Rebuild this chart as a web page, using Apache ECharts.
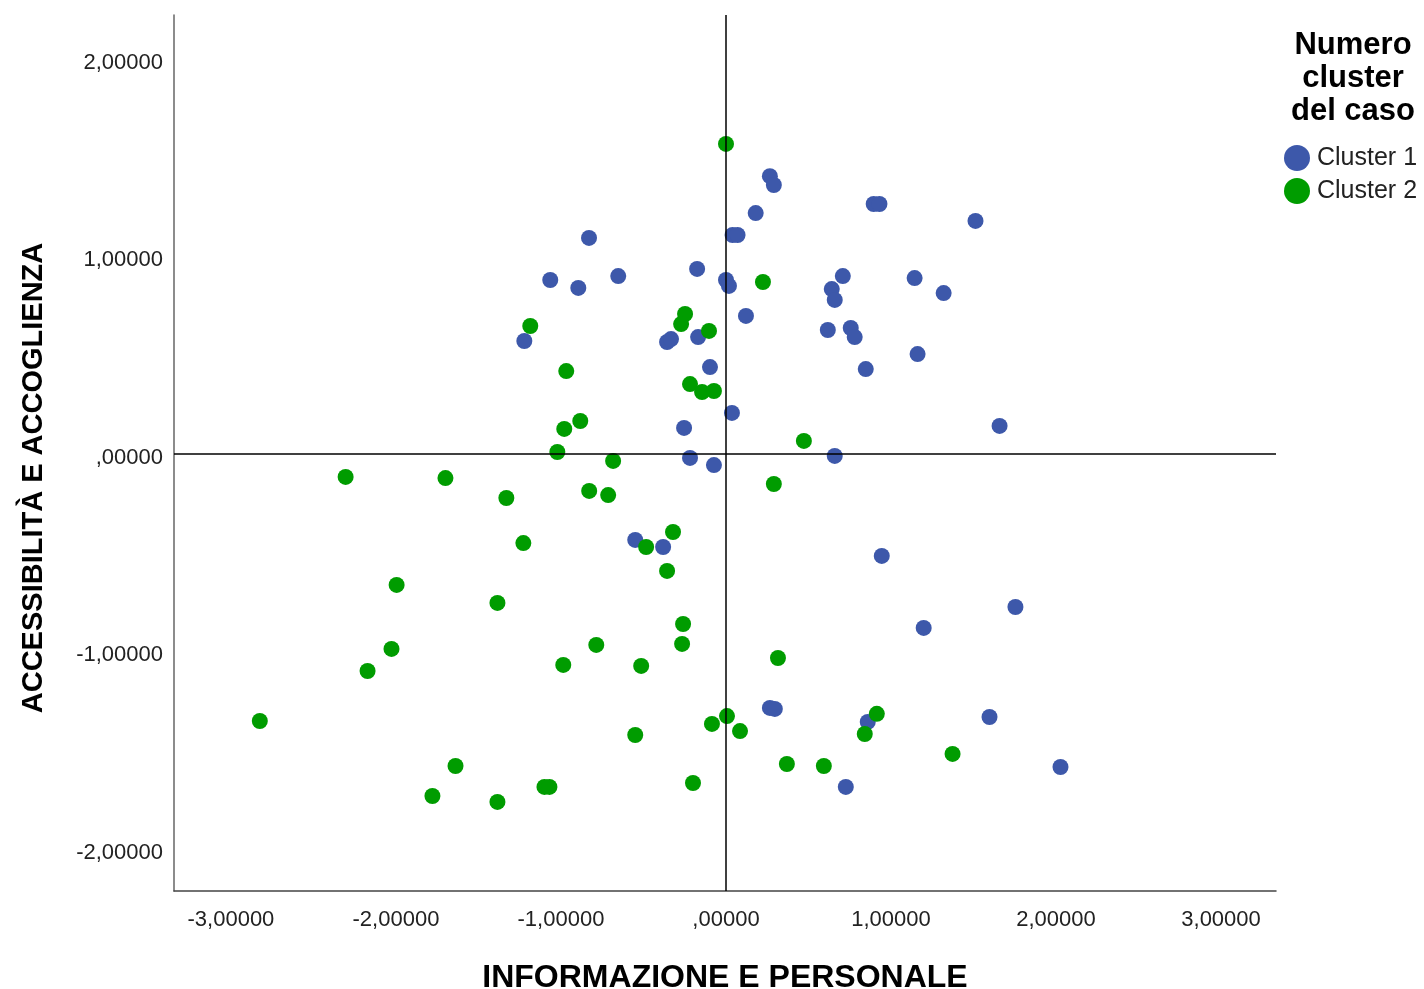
<!DOCTYPE html>
<html>
<head>
<meta charset="utf-8">
<title>Cluster</title>
<script src="https://cdn.jsdelivr.net/npm/echarts@6/dist/echarts.min.js"></script>
<style>
  html, body { margin: 0; padding: 0; background: #fff; }
  #chart { width: 1424px; height: 989px; }
</style>
</head>
<body>
<div id="chart"></div>
<script>
// Factor scores per case: [INFORMAZIONE E PERSONALE, ACCESSIBILITÀ E ACCOGLIENZA]
const cluster1 = [
  [0.266, 1.407], [0.290, 1.362], [0.895, 1.266], [0.930, 1.266], [0.180, 1.220],
  [1.512, 1.180], [0.040, 1.109], [0.070, 1.109], [-0.830, 1.094], [-0.175, 0.937],
  [-1.065, 0.881], [-0.895, 0.841], [-0.653, 0.901], [0.000, 0.881], [0.018, 0.851],
  [0.708, 0.901], [0.641, 0.835], [0.659, 0.780], [1.143, 0.891], [1.319, 0.815],
  [0.121, 0.699], [-1.222, 0.572], [-0.357, 0.567], [-0.333, 0.582], [-0.169, 0.592],
  [0.617, 0.628], [0.756, 0.638], [0.780, 0.592], [1.161, 0.506], [0.847, 0.430],
  [-0.097, 0.440], [0.036, 0.208], [-0.254, 0.132], [1.658, 0.142], [-0.218, -0.020],
  [-0.073, -0.056], [0.659, -0.010], [-0.550, -0.435], [-0.381, -0.471], [0.944, -0.516],
  [1.754, -0.775], [1.198, -0.881], [0.266, -1.286], [0.296, -1.291], [0.859, -1.357],
  [1.597, -1.332], [2.027, -1.585], [0.726, -1.686]
];

const cluster2 = [
  [0.000, 1.570], [0.224, 0.871], [-1.186, 0.648], [-0.248, 0.709], [-0.272, 0.658],
  [-0.103, 0.623], [-0.968, 0.420], [-0.218, 0.354], [-0.145, 0.314], [-0.073, 0.319],
  [-0.883, 0.167], [-0.980, 0.127], [-1.022, 0.010], [-0.684, -0.035], [0.472, 0.066],
  [-2.305, -0.116], [-1.700, -0.122], [-1.331, -0.223], [-0.829, -0.187], [-0.714, -0.208],
  [0.290, -0.152], [-1.228, -0.451], [-0.321, -0.395], [-0.484, -0.471], [-0.357, -0.592],
  [-1.996, -0.663], [-1.385, -0.754], [-0.260, -0.861], [-0.266, -0.962], [-0.786, -0.967],
  [-2.027, -0.987], [0.315, -1.033], [-0.986, -1.068], [-0.514, -1.073], [-2.172, -1.099],
  [-2.825, -1.352], [0.006, -1.327], [-0.085, -1.367], [0.085, -1.403], [0.914, -1.316],
  [0.841, -1.418], [-0.550, -1.423], [1.373, -1.519], [0.369, -1.570], [0.593, -1.580],
  [-1.639, -1.580], [-1.779, -1.732], [-1.385, -1.762], [-1.100, -1.686], [-1.070, -1.686],
  [-0.200, -1.666]
];

const seriesNames = ['Cluster 1', 'Cluster 2'];
const xTicks = [-3, -2, -1, 0, 1, 2, 3];
const yTicks = [-2, -1, 0, 1, 2];
const xTitle = 'INFORMAZIONE E PERSONALE';
const yTitle = 'ACCESSIBILITÀ E ACCOGLIENZA';
const legendTitle = 'Numero\ncluster\ndel caso';

// Decimal comma, leading zero dropped for zero: ",00000"
function fmt(v) {
  const s = Math.abs(v).toFixed(5).replace('.', ',');
  const body = Math.abs(v) < 1e-9 ? s.slice(1) : s;
  return (v < 0 ? '-' : '') + body;
}

const FONT = "'Liberation Sans', Arial, sans-serif";
const chart = echarts.init(document.getElementById('chart'), null, { renderer: 'canvas' });

chart.setOption({
  animation: false,
  backgroundColor: '#ffffff',
  color: ['#3d58aa', '#009c00'],
  grid: { left: 174, right: 148, top: 15, bottom: 98, outerBoundsMode: 'none', containLabel: false },
  xAxis: {
    type: 'value',
    min: -3.345, max: 3.333,
    name: xTitle,
    nameLocation: 'middle',
    nameGap: 71,
    nameTextStyle: { fontFamily: FONT, fontSize: 32, fontWeight: 'bold', color: '#000' },
    axisLine: { show: true, onZero: false, lineStyle: { color: '#444', width: 1.5 } },
    axisTick: { show: false },
    splitLine: { show: false },
    axisLabel: {
      customValues: xTicks,
      formatter: fmt,
      margin: 18,
      fontFamily: FONT, fontSize: 22, color: '#222'
    }
  },
  yAxis: {
    type: 'value',
    min: -2.213, max: 2.223,
    name: yTitle,
    nameLocation: 'middle',
    nameGap: 126,
    nameTextStyle: { fontFamily: FONT, fontSize: 29, fontWeight: 'bold', color: '#000', padding: [0, 50, 0, 0] },
    axisLine: { show: true, onZero: false, lineStyle: { color: '#666', width: 1.5 } },
    axisTick: { show: false },
    splitLine: { show: false },
    axisLabel: {
      customValues: yTicks,
      formatter: v => '{v|' + fmt(v) + '}',
      margin: 11,
      rich: {
        v: { fontFamily: FONT, fontSize: 22, color: '#222', padding: [7, 0, 0, 0] }
      }
    }
  },
  legend: {
    data: seriesNames,
    orient: 'vertical',
    left: 1284,
    top: 145,
    padding: 0,
    itemGap: 7,
    itemWidth: 26,
    itemHeight: 26,
    icon: 'circle',
    itemStyle: { opacity: 1 },
    textStyle: { fontFamily: FONT, fontSize: 25, color: '#222', padding: [0, 0, 0, 2] }
  },
  graphic: [{
    type: 'text',
    x: 1353,
    y: 29,
    style: {
      text: legendTitle,
      textAlign: 'center',
      textVerticalAlign: 'top',
      font: "bold 31px 'Liberation Sans', Arial, sans-serif",
      lineHeight: 33,
      fill: '#000'
    }
  }],
  series: [
    {
      name: seriesNames[0],
      type: 'scatter',
      symbolSize: 16,
      itemStyle: { opacity: 1 },
      data: cluster1,
      z: 2
    },
    {
      name: seriesNames[1],
      type: 'scatter',
      symbolSize: 16,
      itemStyle: { opacity: 1 },
      data: cluster2,
      z: 3
    },
    {
      name: 'ref',
      type: 'scatter',
      data: [],
      z: 5,
      markLine: {
        silent: true,
        symbol: ['none', 'none'],
        label: { show: false },
        lineStyle: { color: '#000', width: 1.5, type: 'solid' },
        data: [{ xAxis: 0 }, { yAxis: 0 }]
      }
    }
  ]
});
</script>
</body>
</html>
